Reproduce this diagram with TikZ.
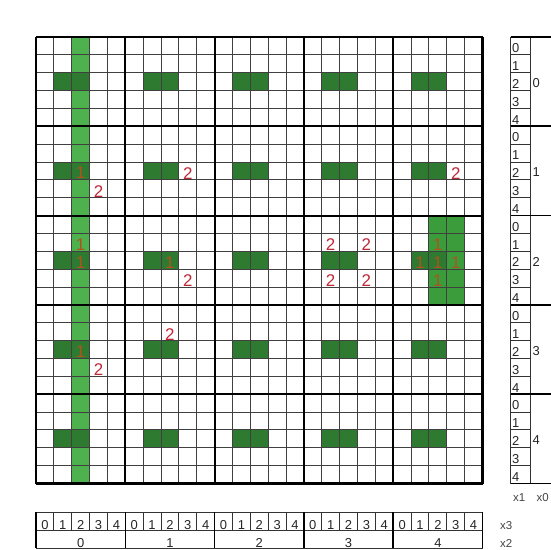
\documentclass[tikz,border=0pt]{standalone}
\usepackage{fontspec}
\setmainfont{Liberation Sans}
\definecolor{lightg}{HTML}{4DB24D}
\definecolor{darkg}{HTML}{2E7A30}
\definecolor{midg}{HTML}{3A9C3A}
\definecolor{numred}{HTML}{C02838}
\definecolor{numone}{HTML}{B0521E}
\definecolor{lblgray}{HTML}{444444}
\tikzset{
  thingrid/.style={draw=black!75, line width=1bp},
  thickgrid/.style={draw=black, line width=2.2bp},
  boxline/.style={draw=black!80, line width=1bp},
  boxthick/.style={draw=black, line width=1.6bp},
  rednum/.style={text=numred, font=\fontsize{17}{17}\selectfont, inner sep=0pt, anchor=base},
  onenum/.style={text=numone, font=\fontsize{17}{17}\selectfont, inner sep=0pt, anchor=base},
  lbl/.style={text=black!85, font=\fontsize{13}{13}\selectfont, inner sep=0pt},
  xlbl/.style={text=lblgray, font=\fontsize{11.5}{11.5}\selectfont, inner sep=0pt, anchor=base west},
}
\begin{document}
\begin{tikzpicture}[x=1bp,y=-1bp]
\def\cellsz{17.86}
\useasboundingbox (0,0) rectangle (551,550);
\fill[white] (0,0) rectangle (551,550);
% light green column
\fill[lightg] ({36+2*\cellsz},37) rectangle ({36+3*\cellsz},{37+25*\cellsz});
% medium green region in block (4,2)
\fill[midg] ({36+22*\cellsz},{37+10*\cellsz}) rectangle ({36+24*\cellsz},{37+15*\cellsz});
% dark cells
\foreach \bx in {0,...,4}{
  \foreach \by in {0,...,4}{
    \fill[darkg] ({36+(5*\bx+1)*\cellsz},{37+(5*\by+2)*\cellsz}) rectangle ++({2*\cellsz},\cellsz);
  }
}
% grid lines
\foreach \i in {0,...,25}{
  \draw[thingrid] ({36+\i*\cellsz},37) -- ({36+\i*\cellsz},{37+25*\cellsz});
  \draw[thingrid] (36,{37+\i*\cellsz}) -- ({36+25*\cellsz},{37+\i*\cellsz});
}
\foreach \i in {0,5,...,25}{
  \draw[thickgrid] ({36+\i*\cellsz},37) -- ({36+\i*\cellsz},{37+25*\cellsz});
  \draw[thickgrid] (36,{37+\i*\cellsz}) -- ({36+25*\cellsz},{37+\i*\cellsz});
}
% numbers 1
\foreach \col/\row [count=\k] in {2/7,2/11,2/12,2/17,7/12,22/11,21/12,22/12,23/12,22/13}{
  \node[onenum] (one\k) at ({36+(\col+0.5)*\cellsz},{37+(\row+1)*\cellsz-1}) {1};
}
% numbers 2
\foreach \col/\row [count=\k] in {3/8,8/7,23/7,8/13,16/11,18/11,16/13,18/13,7/16,3/18}{
  \node[rednum] (two\k) at ({36+(\col+0.5)*\cellsz},{37+(\row+1)*\cellsz-0.5}) {2};
}
% right label column
\draw[boxline] (510.7,37) -- (510.7,{37+25*\cellsz});
\draw[boxline] (530.7,37) -- (530.7,{37+25*\cellsz});
\foreach \i in {1,2,3,4,6,7,8,9,11,12,13,14,16,17,18,19,21,22,23,24}{
  \draw[boxline] (510.7,{37+\i*\cellsz}) -- (530.7,{37+\i*\cellsz});
}
\foreach \i in {0,5,...,25}{
  \draw[boxthick] (510.7,{37+\i*\cellsz}) -- (560,{37+\i*\cellsz});
}
\foreach \by in {0,...,4}{
  \foreach \r in {0,...,4}{
    \node[lbl, anchor=base west] (rl\by\r) at (512,{37+(5*\by+\r+1)*\cellsz-2.2}) {\r};
  }
  \node[lbl, anchor=base west] (rb\by) at (532.5,{37+(5*\by+2.5)*\cellsz+6}) {\by};
}
\node[xlbl] (xone) at (513,501.5) {x1};
\node[xlbl] (xzero) at (536.5,501.5) {x0};
% bottom label rows
\draw[boxline] (36,512) rectangle ({36+25*\cellsz},548);
\draw[boxline] (36,530) -- ({36+25*\cellsz},530);
\foreach \i in {1,...,24}{
  \draw[boxline] ({36+\i*\cellsz},512) -- ({36+\i*\cellsz},530);
}
\foreach \i in {0,5,...,25}{
  \draw[boxthick] ({36+\i*\cellsz},512) -- ({36+\i*\cellsz},548);
}
\foreach \bx in {0,...,4}{
  \foreach \c in {0,...,4}{
    \node[lbl, anchor=base] (cl\bx\c) at ({36+(5*\bx+\c+0.5)*\cellsz},529.5) {\c};
  }
  \node[lbl, anchor=base] (cb\bx) at ({36+(5*\bx+2.5)*\cellsz},547.5) {\bx};
}
\node[xlbl] (xthree) at (500,529) {x3};
\node[xlbl] (xtwo) at (500,547) {x2};
\end{tikzpicture}
\end{document}
